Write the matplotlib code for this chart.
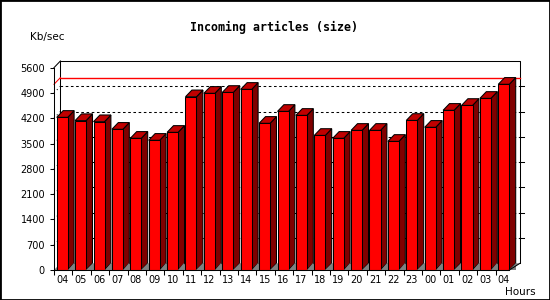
import numpy as np
import matplotlib
matplotlib.use("Agg")
import matplotlib.pyplot as plt
from matplotlib.patches import Polygon, Rectangle

# hourly data
hours = ["04", "05", "06", "07", "08", "09", "10", "11", "12", "13", "14", "15", "16",
         "17", "18", "19", "20", "21", "22", "23", "00", "01", "02", "03", "04"]
kbsec = [4225, 4135, 4105, 3895, 3645, 3590, 3810, 4795, 4890, 4915, 5000, 4060, 4390,
         4280, 3725, 3645, 3865, 3865, 3560, 4140, 3950, 4420, 4555, 4750, 5140]
yticks = [0, 700, 1400, 2100, 2800, 3500, 4200, 4900, 5600]

W, H = 550, 300
fig = plt.figure(figsize=(5.5, 3), dpi=100)
# axes in pixels: front-left x=54, back-right x=520, floor y=270, back-top y=61
ax = fig.add_axes([54 / W, (H - 270) / H, (520 - 54) / W, (270 - 61) / H])

slot = 18.4              # px per hour
ppu = 0.03613            # px per Kb/sec
xmax = (520 - 54) / slot
ymax = (270 - 61) / ppu
dx = 6.4 / slot          # depth in slots
dy = 6.7 / ppu           # depth in values
off = 2.7 / slot
bw = 11 / slot
lw = 0.75

ax.set_xlim(0, xmax)
ax.set_ylim(0, ymax)
for s in ax.spines.values():
    s.set_visible(False)

n = len(kbsec)
top = yticks[-1]
k = dict(clip_on=False)

# floor
ax.add_patch(Polygon([(0, 0), (n - 1 + off + bw, 0), (xmax, dy), (dx, dy)],
                     closed=True, fc="#808080", ec="none", zorder=1, **k))
# back wall frame
ax.plot([dx, dx, xmax, xmax], [dy, ymax, ymax, dy], color="black", lw=lw, zorder=2, **k)
ax.plot([0, dx], [top, top + dy], color="black", lw=lw, zorder=2, **k)
ax.plot([0, 0], [0, top], color="black", lw=lw, zorder=6, **k)
ax.plot([0, n - 1 + off + bw], [0, 0], color="black", lw=lw, zorder=6, **k)
ax.plot([n - 1 + off + bw, xmax, xmax], [0, dy, dy], color="black", lw=lw, zorder=6, **k)

# grid on back wall + right ticks
for t in yticks[1:-1]:
    ax.plot([dx, xmax], [t + dy, t + dy], color="black", lw=lw, snap=True,
            linestyle=(0, (2.5, 2.5)), zorder=2, **k)
    ax.plot([0, dx], [t, t + dy], color="black", lw=lw,
            linestyle=(0, (1, 3)), zorder=2, **k)
    ax.plot([xmax, xmax + 3.5 / slot], [t + dy, t + dy], color="black", lw=lw,
            snap=True, zorder=2, **k)

# max line
mx = max(kbsec)
ax.plot([0, dx], [mx, mx + dy], color="#ff0000", lw=lw, zorder=2, **k)
ax.plot([dx, xmax], [mx + dy, mx + dy], color="#ff0000", lw=1, snap=True, zorder=2, **k)

# bars
for i, v in enumerate(kbsec):
    x0 = i + off
    x1 = x0 + bw
    ax.add_patch(Polygon([(x1, 0), (x1 + dx, dy), (x1 + dx, v + dy), (x1, v)],
                         closed=True, fc="#800000", ec="black", lw=lw, zorder=3, **k))
    ax.add_patch(Polygon([(x0, v), (x0 + dx, v + dy), (x1 + dx, v + dy), (x1, v)],
                         closed=True, fc="#c00000", ec="black", lw=lw, zorder=3, **k))
    ax.add_patch(Rectangle((x0, 0), bw, v, fc="#ff0000", ec="black", lw=lw, zorder=4, **k))
    # floor shadow under the side face
    ax.add_patch(Polygon([(x1, 0), (x1 + dx, 0), (x1 + dx, dy)],
                         closed=True, fc="#808080", ec="none", zorder=5, **k))

ax.set_yticks(yticks)
ax.set_yticklabels([str(t) for t in yticks])
ax.tick_params(axis="y", direction="out", length=3, width=lw, pad=3.5, labelsize=7)
ax.set_xticks(np.arange(n))
ax.set_xticklabels([])
ax.set_xticks(np.arange(n) + 0.45, minor=True)
ax.set_xticklabels(hours, minor=True)
ax.tick_params(axis="x", which="major", direction="out", length=3.5, width=lw)
ax.tick_params(axis="x", which="minor", length=0, pad=3.5, labelsize=7)

fig.text(274 / W, 1 - 27 / H, "Incoming articles (size)", ha="center", va="center",
         family="DejaVu Sans Mono", weight="bold", fontsize=8.4)
fig.text(30 / W, 1 - 37 / H, "Kb/sec", ha="left", va="center", fontsize=7.5)
fig.text(505 / W, 1 - 292 / H, "Hours", ha="left", va="center", fontsize=7.5)

fig.add_artist(Rectangle((0, 0), 1, 1, transform=fig.transFigure, fill=False,
                         ec="black", lw=2))

fig.savefig("out.png", dpi=100)
